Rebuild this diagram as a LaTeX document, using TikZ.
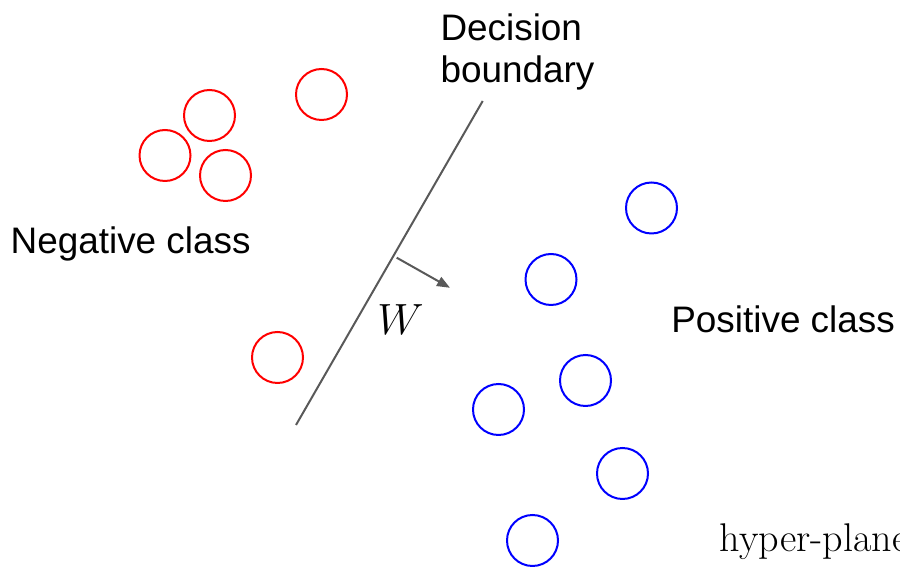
\documentclass[tikz,border=0pt]{standalone}
\usepackage{fontspec}
\usetikzlibrary{arrows.meta}
\newfontfamily\labelsans{Liberation Sans}
\definecolor{boundarygray}{HTML}{595959}
\begin{document}
\begin{tikzpicture}[x=0.02cm,y=-0.02cm,
  sample/.style={circle,draw,line width=0.04cm,minimum size=1.02cm,inner sep=0pt},
  negpt/.style={sample,draw=red},
  pospt/.style={sample,draw=blue},
  caption/.style={font=\labelsans\fontsize{21}{23.8}\selectfont,inner sep=0pt,text=black},
  boundary/.style={draw=boundarygray,line width=0.04cm},
  normal/.style={boundary,-{Triangle[length=0.26cm,width=0.2cm]}}]
  \useasboundingbox (0,0) rectangle (900,567);

  % negative samples
  \node[negpt] (n1) at (209.5,115.5) {};
  \node[negpt] (n2) at (321.5,94.5) {};
  \node[negpt] (n3) at (165,155.5) {};
  \node[negpt] (n4) at (225.5,175.5) {};
  \node[negpt] (n5) at (277.5,357.5) {};

  % positive samples
  \node[pospt] (p1) at (651.5,208) {};
  \node[pospt] (p2) at (551,279.5) {};
  \node[pospt] (p3) at (585.5,380.5) {};
  \node[pospt] (p4) at (498.5,409.5) {};
  \node[pospt] (p5) at (622.5,473.5) {};
  \node[pospt] (p6) at (532.5,540.5) {};

  % separating line and its normal vector
  \coordinate (btop) at (482.7,101);
  \coordinate (bbot) at (296,425);
  \coordinate (wfoot) at (396.7,257.7);
  \coordinate (wtip) at (450,287.8);
  \draw[boundary] (btop) -- (bbot);
  \draw[normal] (wfoot) -- (wtip);

  % labels
  \node[caption,anchor=north west,align=left] (dec) at (440.2,13.3) {Decision\\boundary};
  \node[caption,anchor=base west] (neg) at (10.3,253.3) {Negative class};
  \node[caption,anchor=base west] (pos) at (671,332.3) {Positive class};
  \node[inner sep=0pt,anchor=base west,font=\fontsize{23}{27}\selectfont] (w) at (377,335) {$W$};
  \node[inner sep=0pt,anchor=base west,font=\fontsize{22.8}{27}\selectfont] (hp) at (719.5,552) {hyper-plane};
\end{tikzpicture}
\end{document}
